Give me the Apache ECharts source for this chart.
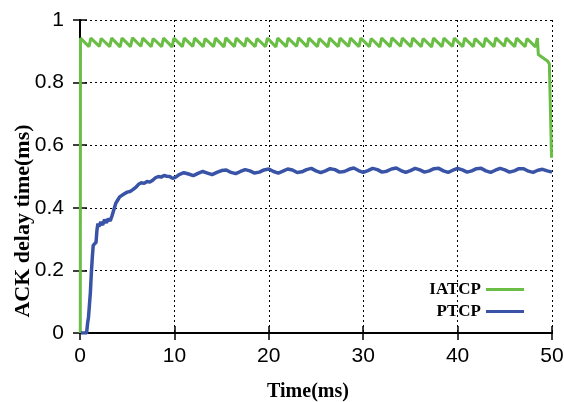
<!DOCTYPE html>
<html>
<head>
<meta charset="utf-8">
<script src="https://cdn.jsdelivr.net/npm/echarts@6/dist/echarts.min.js"></script>
<style>html,body{margin:0;padding:0;background:#fff}#c{width:564px;height:402px}</style>
</head>
<body>
<div id="c"></div>
<script>
// ---- data ----
var xTicks = [0, 10, 20, 30, 40, 50];
var yTicks = [0, 0.2, 0.4, 0.6, 0.8, 1];
var seriesNames = ['IATCP', 'PTCP'];

var iatcpT = [0.03, 0.05,
  0.95, 1.15, 2.05, 2.25, 3.15, 3.35, 4.25, 4.45, 5.35, 5.55, 6.45, 6.65, 7.55, 7.75, 8.65, 8.85, 9.75, 9.95,
  10.85, 11.05, 11.95, 12.15, 13.05, 13.25, 14.15, 14.35, 15.25, 15.45, 16.35, 16.55, 17.45, 17.65, 18.55, 18.75, 19.65, 19.85,
  20.75, 20.95, 21.85, 22.05, 22.95, 23.15, 24.05, 24.25, 25.15, 25.35, 26.25, 26.45, 27.35, 27.55, 28.45, 28.65, 29.55, 29.75,
  30.65, 30.85, 31.75, 31.95, 32.85, 33.05, 33.95, 34.15, 35.05, 35.25, 36.15, 36.35, 37.25, 37.45, 38.35, 38.55, 39.45, 39.65,
  40.55, 40.75, 41.65, 41.85, 42.75, 42.95, 43.85, 44.05, 44.95, 45.15, 46.05, 46.25, 47.15, 47.35, 48.25, 48.45,
  48.55, 49.55, 49.6, 49.72, 49.95];
var iatcpV = [0.0, 0.942,
  0.915, 0.942, 0.916, 0.941, 0.915, 0.942, 0.914, 0.942, 0.915, 0.943, 0.916, 0.942, 0.915, 0.941, 0.915, 0.942, 0.914, 0.942,
  0.915, 0.942, 0.916, 0.942, 0.915, 0.941, 0.915, 0.942, 0.914, 0.943, 0.915, 0.942, 0.916, 0.942, 0.915, 0.941, 0.915, 0.942,
  0.914, 0.942, 0.915, 0.942, 0.916, 0.943, 0.915, 0.942, 0.915, 0.941, 0.914, 0.942, 0.915, 0.942, 0.916, 0.942, 0.915, 0.942,
  0.915, 0.941, 0.914, 0.942, 0.915, 0.943, 0.916, 0.942, 0.915, 0.942, 0.915, 0.941, 0.914, 0.942, 0.915, 0.942, 0.916, 0.942,
  0.915, 0.942, 0.915, 0.941, 0.914, 0.942, 0.915, 0.943, 0.916, 0.942, 0.915, 0.942, 0.915, 0.941, 0.914, 0.942,
  0.890, 0.868, 0.862, 0.860, 0.56];

var ptcpT = [0.1, 0.7, 0.8, 0.9, 1.0, 1.1, 1.2, 1.3, 1.4, 1.5, 1.6, 1.7, 1.8, 1.9, 2.0, 2.2, 2.4, 2.6, 2.8, 3.0,
  3.2, 3.4, 3.6, 3.8, 4.0, 4.2, 4.4, 4.7, 5.0, 5.3, 5.6, 5.9, 6.2, 6.5, 6.8, 7.1, 7.4, 7.7, 8.0, 8.3,
  8.6, 8.9, 9.2, 9.5, 9.8, 10.1, 10.5, 11.0, 11.5, 12.0, 12.5, 13.0, 13.5, 14.0, 14.5, 15.0, 15.5, 16.0, 16.5, 17.0,
  17.5, 18.0, 18.5, 19.0, 19.5, 20.0, 20.5, 21.0, 21.5, 22.0, 22.5, 23.0, 23.5, 24.0, 24.5, 25.0, 25.5, 26.0, 26.5, 27.0,
  27.5, 28.0, 28.5, 29.0, 29.5, 30.0, 30.5, 31.0, 31.5, 32.0, 32.5, 33.0, 33.5, 34.0, 34.5, 35.0, 35.5, 36.0, 36.5, 37.0,
  37.5, 38.0, 38.5, 39.0, 39.5, 40.0, 40.5, 41.0, 41.5, 42.0, 42.5, 43.0, 43.5, 44.0, 44.5, 45.0, 45.5, 46.0, 46.5, 47.0,
  47.5, 48.0, 48.5, 49.0, 49.5, 50.0];
var ptcpV = [0.0, 0.0, 0.03, 0.05, 0.09, 0.13, 0.19, 0.24, 0.28, 0.275, 0.285, 0.29, 0.33, 0.35, 0.34, 0.355, 0.345, 0.362, 0.352, 0.365,
  0.358, 0.375, 0.395, 0.415, 0.425, 0.435, 0.44, 0.445, 0.45, 0.452, 0.458, 0.465, 0.475, 0.48, 0.478, 0.484, 0.482, 0.488, 0.496, 0.5,
  0.498, 0.503, 0.501, 0.5, 0.494, 0.497, 0.506, 0.512, 0.508, 0.503, 0.510, 0.516, 0.511, 0.506, 0.513, 0.519, 0.521, 0.513, 0.509, 0.516,
  0.522, 0.518, 0.511, 0.514, 0.521, 0.524, 0.516, 0.511, 0.517, 0.524, 0.521, 0.513, 0.515, 0.522, 0.526, 0.518, 0.512, 0.518, 0.525, 0.522,
  0.514, 0.516, 0.523, 0.527, 0.519, 0.513, 0.519, 0.526, 0.522, 0.514, 0.517, 0.524, 0.527, 0.519, 0.513, 0.519, 0.526, 0.521, 0.514, 0.518,
  0.525, 0.526, 0.518, 0.513, 0.520, 0.526, 0.521, 0.514, 0.518, 0.525, 0.526, 0.518, 0.513, 0.520, 0.526, 0.521, 0.514, 0.518, 0.525, 0.525,
  0.517, 0.513, 0.520, 0.523, 0.518, 0.514];

var colors = ['#6abd45', '#3954a6'];

// ---- chart ----
function pairs(t, v) { return t.map(function (x, i) { return [x, v[i]]; }); }

var chart = echarts.init(document.getElementById('c'), null, { renderer: 'canvas' });
var axisLine = { show: true, lineStyle: { color: '#000', width: 2 } };
var tick = { show: true, inside: true, length: 7, lineStyle: { color: '#000', width: 1.5 } };
var split = { show: true, lineStyle: { color: '#000', type: [2, 3], width: 1 } };
var labelFont = { color: '#000', fontFamily: 'Liberation Sans', fontSize: 21 };

chart.setOption({
  animation: false,
  backgroundColor: '#fff',
  grid: { left: 80, right: 12, top: 20, bottom: 69, containLabel: false, outerBoundsMode: 'none' },
  xAxis: [
    { type: 'value', position: 'bottom', min: xTicks[0], max: xTicks[xTicks.length - 1], interval: 10,
      axisLine: axisLine, axisTick: tick, splitLine: split,
      axisLabel: Object.assign({ margin: 13 }, labelFont),
      name: 'Time(ms)', nameLocation: 'middle', nameGap: 49,
      nameTextStyle: { color: '#000', fontFamily: 'Liberation Serif', fontWeight: 'bold', fontSize: 20, padding: [0, 16, 0, 0] } },
    { type: 'value', position: 'top', min: xTicks[0], max: xTicks[xTicks.length - 1], interval: 10,
      axisLine: axisLine, axisTick: tick, splitLine: { show: false }, axisLabel: { show: false } }
  ],
  yAxis: [
    { type: 'value', position: 'left', min: yTicks[0], max: yTicks[yTicks.length - 1], interval: 0.2,
      axisLine: axisLine, axisTick: tick, splitLine: split,
      axisLabel: Object.assign({ margin: 16 }, labelFont) },
    { type: 'value', position: 'right', min: yTicks[0], max: yTicks[yTicks.length - 1], interval: 0.2,
      axisLine: axisLine, axisTick: tick, splitLine: { show: false }, axisLabel: { show: false } }
  ],
  legend: {
    orient: 'vertical', right: 40, top: 281, align: 'right', itemGap: 5, padding: 0,
    itemWidth: 38, itemHeight: 3, icon: 'rect',
    textStyle: { color: '#000', fontFamily: 'Liberation Serif', fontWeight: 'bold', fontSize: 17 },
    data: seriesNames
  },
  graphic: [{
    type: 'text', x: 23, y: 221, rotation: Math.PI / 2,
    style: { text: 'ACK delay time(ms)', font: 'bold 22px "Liberation Serif"', fill: '#000',
      textAlign: 'center', textVerticalAlign: 'middle', align: 'center', verticalAlign: 'middle' }
  }],
  series: [
    { name: seriesNames[0], type: 'line', xAxisIndex: 0, yAxisIndex: 0, data: pairs(iatcpT, iatcpV),
      showSymbol: false, symbol: 'none', lineStyle: { color: colors[0], width: 3 }, itemStyle: { color: colors[0] }, z: 3 },
    { name: seriesNames[1], type: 'line', xAxisIndex: 0, yAxisIndex: 0, data: pairs(ptcpT, ptcpV),
      showSymbol: false, symbol: 'none', lineStyle: { color: colors[1], width: 3.5 }, itemStyle: { color: colors[1] }, z: 4 }
  ]
});
</script>
</body>
</html>
